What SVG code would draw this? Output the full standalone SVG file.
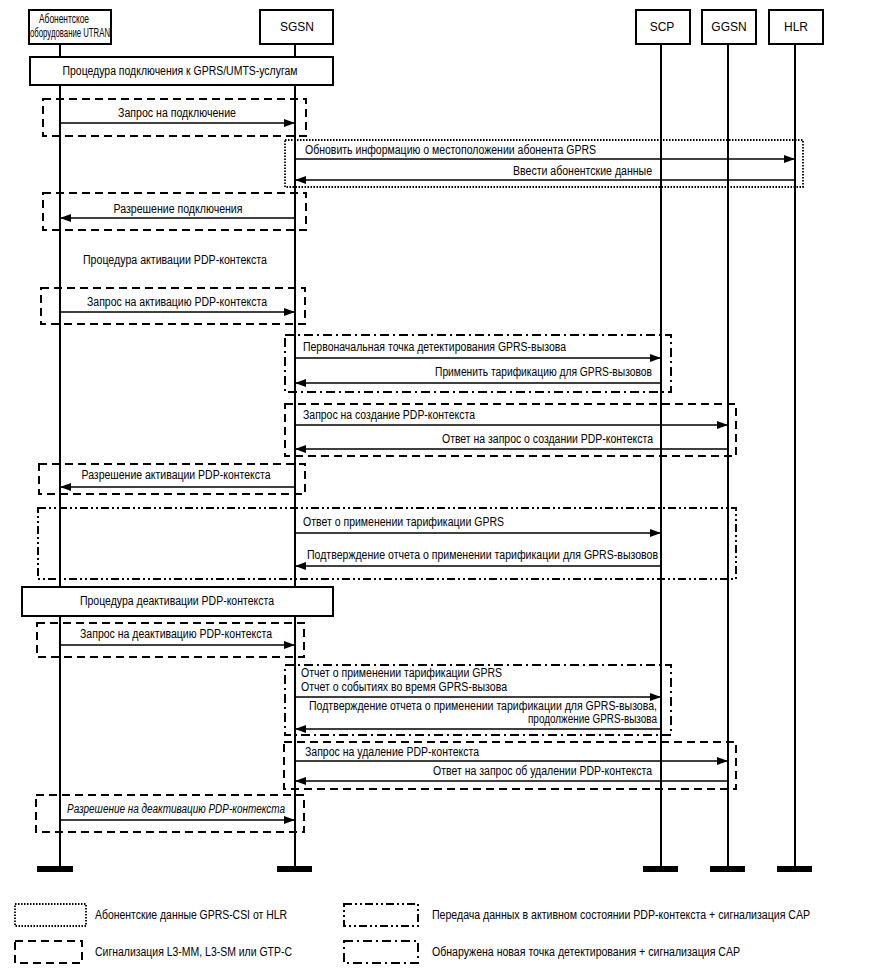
<svg xmlns="http://www.w3.org/2000/svg" width="881" height="979" viewBox="0 0 881 979">
<defs>
<marker id="ah" markerUnits="userSpaceOnUse" markerWidth="11" markerHeight="8" refX="11" refY="4" orient="auto">
<path d="M0,0 L11,4 L0,8 z" fill="#000"/>
</marker>
<style>
text{font-family:"Liberation Sans Narrow","Liberation Sans",Arial,sans-serif;font-size:12px;fill:#000}
.hdr{fill:#fff;stroke:#000;stroke-width:2}
.life{stroke:#000;stroke-width:2;fill:none}
.bar{fill:#000}
.proc{fill:#fff;stroke:#000;stroke-width:2}
.msg{stroke:#000;stroke-width:1.6;fill:none;marker-end:url(#ah)}
.f{fill:none;stroke:#000;stroke-width:2}
.dash{stroke-dasharray:8 5}
.dot{stroke-dasharray:1.5 1.5;stroke-width:1.8}
.dd{stroke-dasharray:9 4 2 4}
.ddd{stroke-dasharray:8 3 2 3 2 3}
.m{text-anchor:middle}
.e{text-anchor:end}
</style>
</defs>
<rect width="881" height="979" fill="#fff"/>

<g id="frames">
<rect class="f dash" x="43" y="99" width="263" height="37"/>
<rect class="f dot" x="285" y="140" width="518" height="47"/>
<rect class="f dash" x="43" y="193" width="263" height="37"/>
<rect class="f dash" x="41" y="288" width="264" height="36"/>
<rect class="f dd" x="285" y="335" width="386" height="57"/>
<rect class="f dash" x="285" y="404" width="451" height="52"/>
<rect class="f dash" x="39" y="464" width="266" height="30"/>
<rect class="f ddd" x="38" y="508" width="698" height="71"/>
<rect class="f dash" x="37" y="623" width="267" height="34"/>
<rect class="f dd" x="285" y="665" width="386" height="70"/>
<rect class="f dash" x="284" y="742" width="452" height="47"/>
<rect class="f dash" x="36" y="795" width="268" height="37"/>
</g>

<g id="ue">
<line class="life" x1="60" y1="44" x2="60" y2="869"/>
<rect class="hdr" x="29" y="10" width="82" height="34"/>
<text x="64" y="23" class="m" font-size="10" textLength="50" lengthAdjust="spacingAndGlyphs">Абонентское</text>
<text x="30" y="37" font-size="10" textLength="80" lengthAdjust="spacingAndGlyphs">оборудование UTRAN</text>
<rect class="bar" x="37" y="866" width="36" height="6"/>
</g>
<g id="sgsn">
<line class="life" x1="295" y1="44" x2="295" y2="869"/>
<rect class="hdr" x="260" y="10" width="73" height="34"/>
<text x="297" y="31" class="m">SGSN</text>
<rect class="bar" x="277" y="866" width="35" height="6"/>
</g>
<g id="scp">
<line class="life" x1="661" y1="44" x2="661" y2="869"/>
<rect class="hdr" x="636" y="10" width="54" height="34"/>
<text x="662" y="31" class="m">SCP</text>
<rect class="bar" x="643" y="866" width="35" height="6"/>
</g>
<g id="ggsn">
<line class="life" x1="728" y1="44" x2="728" y2="869"/>
<rect class="hdr" x="702" y="10" width="54" height="34"/>
<text x="729" y="31" class="m">GGSN</text>
<rect class="bar" x="710" y="866" width="35" height="6"/>
</g>
<g id="hlr">
<line class="life" x1="795" y1="44" x2="795" y2="869"/>
<rect class="hdr" x="769" y="10" width="54" height="34"/>
<text x="796" y="31" class="m">HLR</text>
<rect class="bar" x="777" y="866" width="35" height="6"/>
</g>

<g id="proc-attach">
<rect class="proc" x="30" y="57" width="303" height="28"/>
<text x="180" y="75" class="m" textLength="235" lengthAdjust="spacingAndGlyphs">Процедура подключения к GPRS/UMTS-услугам</text>
</g>
<g id="proc-activate">
<text x="175" y="264" class="m" textLength="184" lengthAdjust="spacingAndGlyphs">Процедура активации PDP-контекста</text>
</g>
<g id="proc-deactivate">
<rect class="proc" x="22" y="587" width="311" height="29"/>
<text x="177" y="605" class="m" textLength="194" lengthAdjust="spacingAndGlyphs">Процедура деактивации PDP-контекста</text>
</g>

<g id="connectors">
<line class="msg" x1="60" y1="123" x2="295" y2="123"/>
<line class="msg" x1="295" y1="159" x2="795" y2="159"/>
<line class="msg" x1="795" y1="180" x2="295" y2="180"/>
<line class="msg" x1="295" y1="218" x2="60" y2="218"/>
<line class="msg" x1="60" y1="312" x2="295" y2="312"/>
<line class="msg" x1="295" y1="358" x2="661" y2="358"/>
<line class="msg" x1="661" y1="383" x2="295" y2="383"/>
<line class="msg" x1="295" y1="425" x2="728" y2="425"/>
<line class="msg" x1="728" y1="449" x2="295" y2="449"/>
<line class="msg" x1="295" y1="487" x2="60" y2="487"/>
<line class="msg" x1="295" y1="533" x2="661" y2="533"/>
<line class="msg" x1="661" y1="566" x2="295" y2="566"/>
<line class="msg" x1="60" y1="645" x2="295" y2="645"/>
<line class="msg" x1="295" y1="697" x2="661" y2="697"/>
<line class="msg" x1="661" y1="729" x2="295" y2="729"/>
<line class="msg" x1="295" y1="761" x2="728" y2="761"/>
<line class="msg" x1="728" y1="781" x2="295" y2="781"/>
<line class="msg" x1="60" y1="820" x2="295" y2="820"/>
</g>

<g id="labels">
<text x="177" y="117" class="m" textLength="118" lengthAdjust="spacingAndGlyphs">Запрос на подключение</text>
<text x="305" y="154" textLength="291" lengthAdjust="spacingAndGlyphs">Обновить информацию о местоположении абонента GPRS</text>
<text x="652" y="175" class="e" textLength="139" lengthAdjust="spacingAndGlyphs">Ввести абонентские данные</text>
<text x="178" y="213" class="m" textLength="129" lengthAdjust="spacingAndGlyphs">Разрешение подключения</text>
<text x="177" y="306" class="m" textLength="180" lengthAdjust="spacingAndGlyphs">Запрос на активацию PDP-контекста</text>
<text x="303" y="351" textLength="263" lengthAdjust="spacingAndGlyphs">Первоначальная точка детектирования GPRS-вызова</text>
<text x="652" y="376" class="e" textLength="217" lengthAdjust="spacingAndGlyphs">Применить тарификацию для GPRS-вызовов</text>
<text x="303" y="419" textLength="172" lengthAdjust="spacingAndGlyphs">Запрос на создание PDP-контекста</text>
<text x="653" y="443" class="e" textLength="211" lengthAdjust="spacingAndGlyphs">Ответ на запрос о создании PDP-контекста</text>
<text x="176" y="479" class="m" textLength="189" lengthAdjust="spacingAndGlyphs">Разрешение активации PDP-контекста</text>
<text x="303" y="526" textLength="201" lengthAdjust="spacingAndGlyphs">Ответ о применении тарификации GPRS</text>
<text x="307" y="559" textLength="351" lengthAdjust="spacingAndGlyphs">Подтверждение отчета о применении тарификации для GPRS-вызовов</text>
<text x="176" y="638" class="m" textLength="192" lengthAdjust="spacingAndGlyphs">Запрос на деактивацию PDP-контекста</text>
<text x="301" y="677" textLength="201" lengthAdjust="spacingAndGlyphs">Отчет о применении тарификации GPRS</text>
<text x="301" y="691" textLength="206" lengthAdjust="spacingAndGlyphs">Отчет о событиях во время GPRS-вызова</text>
<text x="657" y="710" class="e" textLength="348" lengthAdjust="spacingAndGlyphs">Подтверждение отчета о применении тарификации для GPRS-вызова,</text>
<text x="657" y="723" class="e" textLength="129" lengthAdjust="spacingAndGlyphs">продолжение GPRS-вызова</text>
<text x="305" y="756" textLength="174" lengthAdjust="spacingAndGlyphs">Запрос на удаление PDP-контекста</text>
<text x="652" y="775" class="e" textLength="219" lengthAdjust="spacingAndGlyphs">Ответ на запрос об удалении PDP-контекста</text>
<text x="176" y="813" class="m" font-style="italic" textLength="218" lengthAdjust="spacingAndGlyphs">Разрешение на деактивацию PDP-контекста</text>
</g>

<g id="legend">
<rect class="f dot" x="15" y="904" width="71" height="22"/>
<text x="95" y="919" textLength="192" lengthAdjust="spacingAndGlyphs">Абонентские данные GPRS-CSI от HLR</text>
<rect class="f dash" x="15" y="941" width="67" height="22"/>
<text x="95" y="956" textLength="197" lengthAdjust="spacingAndGlyphs">Сигнализация L3-MM, L3-SM или GTP-C</text>
<rect class="f ddd" x="344" y="904" width="74" height="22"/>
<text x="432" y="919" textLength="378" lengthAdjust="spacingAndGlyphs">Передача данных в активном состоянии PDP-контекста + сигнализация CAP</text>
<rect class="f dd" x="344" y="941" width="74" height="22"/>
<text x="432" y="956" textLength="308" lengthAdjust="spacingAndGlyphs">Обнаружена новая точка детектирования + сигнализация CAP</text>
</g>
</svg>
